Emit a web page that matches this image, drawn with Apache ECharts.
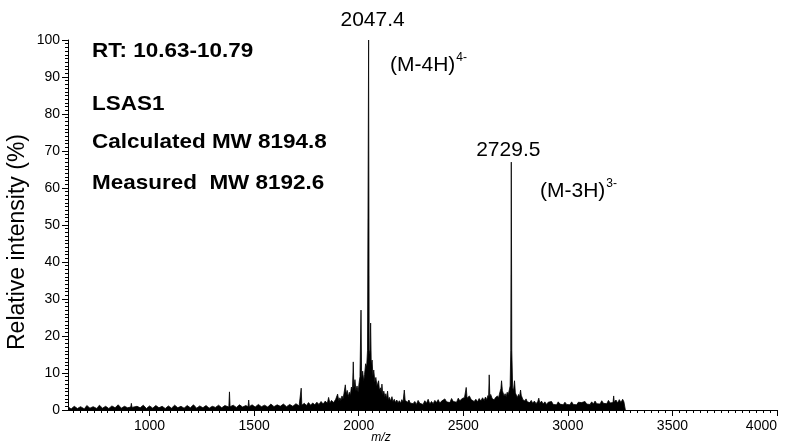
<!DOCTYPE html>
<html>
<head>
<meta charset="utf-8">
<script src="https://cdn.jsdelivr.net/npm/echarts@6/dist/echarts.min.js"></script>
<style>html,body{margin:0;padding:0;background:#fff}#c{width:788px;height:445px}</style>
</head>
<body>
<div id="c"></div>
<script>
// ---- data (m/z, relative intensity %) ----
const lowMassRegion = [[612,0.8],[625,0.3],[640,1.0],[655,0.4],[670,0.9],[688,0.3],[700,1.2],[715,0.5],[730,0.9],[748,0.4],[760,1.3],[775,0.5],[790,1.0],[805,0.4],[820,1.1],[835,0.6],[850,1.4],[865,0.5],[880,1.0],[895,0.6],[910,0.8],[913,1.8],[916,0.7],[925,0.5],[940,1.0],[955,0.6],[970,1.3],[985,0.4],[1000,1.1],[1015,0.5],[1030,1.2],[1045,0.6],[1060,1.0],[1075,0.4],[1090,1.1],[1105,0.5],[1120,1.3],[1135,0.6],[1150,1.0],[1165,0.5],[1180,1.2],[1195,0.6],[1210,1.4],[1225,0.5],[1240,1.1],[1255,0.6],[1270,1.2],[1285,0.5],[1300,1.0],[1315,0.7],[1330,1.3],[1345,0.6],[1360,1.2],[1379,0.8],[1382,4.9],[1385,0.9],[1400,1.3],[1415,0.7],[1430,1.4],[1445,0.8],[1460,1.2],[1471,0.9],[1474,2.7],[1477,0.9],[1490,1.4],[1505,0.8],[1520,1.5],[1535,0.9],[1550,1.3],[1565,0.8],[1580,1.6],[1595,0.9],[1610,1.4],[1625,1.0],[1640,1.6],[1655,0.9],[1670,1.5],[1685,1.0],[1700,1.7],[1715,1.1],[1722,1.2],[1725,5.9],[1728,1.3],[1740,1.8]];
const preClusterRegion = [[1750,1.2],[1760,2.0],[1770,1.3],[1780,1.9],[1785,2.2],[1790,1.4],[1800,2.1],[1810,1.5],[1820,2.3],[1830,1.6],[1840,2.4],[1850,1.8],[1856,3.4],[1862,1.9],[1870,2.6],[1880,2.0],[1890,2.9],[1899,4.3],[1905,2.4]];
const cluster4minus = [[1910,3.3],[1915,2.6],[1920,3.8],[1925,3.0],[1930,4.6],[1936,6.8],[1940,4.2],[1945,5.3],[1950,3.6],[1955,4.8],[1960,3.9],[1965,6.2],[1970,5.0],[1974,13.0],[1977,5.8],[1982,8.2],[1987,5.2],[1992,6.5],[1997,4.8],[2002,7.4],[2006,9.0],[2011,27.0],[2014,8.5],[2019,10.5],[2024,7.8],[2028,9.6],[2033,12.5],[2038,11.6],[2042,16.0],[2045,16.5],[2047.4,100],[2050,16.2],[2054,15.0],[2057,23.5],[2060,12.0],[2064,13.5],[2068,9.2],[2072,10.8],[2077,7.6],[2082,8.8],[2087,6.5],[2091,7.2],[2095,7.9],[2099,5.4],[2104,6.0],[2108,4.6],[2111,7.0],[2115,4.2],[2120,5.1],[2125,3.6],[2130,4.4],[2134,3.0],[2138,5.1],[2142,2.8],[2147,3.4],[2152,2.4],[2159,3.6],[2164,2.2],[2170,2.9],[2176,2.0],[2182,2.7],[2188,1.9],[2194,2.5],[2200,1.8],[2206,2.8],[2212,2.2],[2218,5.4],[2222,2.6],[2228,3.0],[2234,2.1],[2240,2.7],[2246,1.9]];
const midRegion = [[2252,2.4],[2260,1.7],[2268,2.3],[2276,1.5],[2284,2.6],[2292,1.8],[2300,2.2],[2308,1.5],[2316,2.5],[2324,1.8],[2332,2.9],[2340,1.6],[2348,2.3],[2356,1.7],[2364,2.6],[2372,2.0],[2380,2.8],[2388,1.8],[2396,2.4],[2404,1.9],[2412,3.0],[2420,2.2],[2428,2.7],[2436,2.0],[2444,3.1],[2452,2.3],[2460,2.8],[2468,2.1],[2476,3.2],[2484,2.4],[2492,3.0],[2500,2.6],[2506,3.4],[2511,3.0],[2514,6.1],[2518,3.2],[2524,3.6],[2529,3.8],[2533,4.1],[2538,2.8],[2545,3.0],[2552,2.3],[2560,2.9],[2568,2.2],[2576,3.1],[2584,2.4],[2592,3.3],[2600,2.6]];
const cluster3minus = [[2606,3.5],[2612,2.8],[2618,3.9],[2621,3.2],[2624,9.5],[2627,3.6],[2631,4.2],[2634,4.5],[2638,3.1],[2643,3.6],[2648,2.7],[2653,3.3],[2658,2.9],[2663,3.8],[2668,3.2],[2672,4.1],[2676,5.0],[2680,5.8],[2683,7.9],[2687,5.2],[2691,4.9],[2695,3.8],[2700,4.4],[2705,3.6],[2710,4.8],[2715,4.2],[2720,5.4],[2724,6.5],[2727,16.0],[2729.5,67],[2732,16.0],[2736,6.0],[2740,5.2],[2745,7.9],[2749,4.6],[2754,4.0],[2759,3.4],[2764,4.2],[2769,3.6],[2774,5.4],[2777,4.0],[2780,3.6],[2785,2.8],[2790,3.3],[2795,2.4],[2800,3.0],[2806,2.2],[2812,2.7],[2818,2.0]];
const highMassRegion = [[2825,2.6],[2832,1.8],[2840,2.4],[2848,1.7],[2856,2.3],[2861,3.2],[2866,1.8],[2874,2.4],[2882,1.6],[2890,2.2],[2898,1.5],[2906,2.1],[2914,1.6],[2922,2.3],[2930,1.5],[2938,2.0],[2946,1.4],[2954,2.2],[2962,1.6],[2970,2.0],[2978,1.4],[2986,2.1],[2994,1.5],[3002,1.9],[3010,1.4],[3018,2.2],[3026,1.5],[3034,2.0],[3042,1.4],[3050,2.1],[3058,1.6],[3066,2.0],[3074,1.5],[3082,2.3],[3090,1.6],[3098,2.1],[3106,1.5],[3114,2.2],[3122,1.6],[3130,2.4],[3138,1.7],[3146,2.2],[3154,1.6],[3162,2.5],[3170,1.8],[3178,2.3],[3186,1.7],[3194,2.6],[3202,1.9],[3210,2.4],[3216,2.0],[3219,3.8],[3222,2.1],[3230,2.7],[3238,1.9],[3246,2.8],[3254,2.0],[3262,2.9],[3268,2.2],[3274,2.6],[3275,0]];

const labelledPeaks = [[2047.4, 100], [2729.5, 67]];
const xTickValues = [1000, 1500, 2000, 2500, 3000, 3500, 4000];
const yTickLabels = ['0','10','20','30','40','50','60','70','80','90','100'];
const infoLines = ['RT: 10.63-10.79', 'LSAS1', 'Calculated MW 8194.8', 'Measured  MW 8192.6'];

const spectrum = [].concat(lowMassRegion, preClusterRegion, cluster4minus, midRegion, cluster3minus, highMassRegion);

const xMin = 610, xMax = 4000;
const minorTicks = [];
for (let v = 1000 - 100/3*11; v <= xMax + 0.01; v += 100/3) { if (v >= xMin) minorTicks.push(v); }

const FONT = '"Liberation Sans", Arial, sans-serif';
const chart = echarts.init(document.getElementById('c'), null, {renderer: 'canvas'});
const infoText = (i, y) => ({type: 'text', x: 92, y: y, scaleX: 1.07,
  style: {text: infoLines[i], font: 'bold 21px ' + FONT, fill: '#000', verticalAlign: 'middle'}});
chart.setOption({
  backgroundColor: '#fff',
  animation: false,
  grid: {left: 68, right: 11, top: 40, bottom: 35},
  xAxis: [{
    type: 'value', min: xMin, max: xMax,
    axisLine: {lineStyle: {color: '#000', width: 1}},
    axisTick: {customValues: minorTicks, length: 3, lineStyle: {color: '#000'}},
    axisLabel: {show: false},
    splitLine: {show: false}
  }, {
    type: 'value', min: xMin, max: xMax, position: 'bottom',
    axisLine: {show: false},
    axisTick: {customValues: xTickValues, length: 6, lineStyle: {color: '#000'}},
    axisLabel: {customValues: xTickValues, fontSize: 14, color: '#000', fontFamily: FONT, margin: 9,
      alignMaxLabel: 'right', formatter: (v) => String(v)},
    splitLine: {show: false}
  }],
  yAxis: {
    type: 'value', min: 0, max: 100, interval: 10,
    axisLine: {show: true, lineStyle: {color: '#000', width: 1}},
    axisTick: {show: true, length: 6, lineStyle: {color: '#000'}},
    minorTick: {show: true, splitNumber: 10, length: 3, lineStyle: {color: '#000'}},
    axisLabel: {fontSize: 14, color: '#000', fontFamily: FONT, margin: 8,
      formatter: (v) => yTickLabels[Math.round(v / 10)]},
    splitLine: {show: false}
  },
  series: [{
    type: 'line', xAxisIndex: 0, data: spectrum,
    symbol: 'none', showSymbol: false, sampling: null,
    lineStyle: {color: '#000', width: 0.8},
    areaStyle: {color: '#000', opacity: 1, origin: 'start'},
    markPoint: {
      symbol: 'circle', symbolSize: 0,
      data: [
        {coord: labelledPeaks[0], value: String(labelledPeaks[0][0]),
         label: {position: 'top', distance: 9, offset: [4, 0]}},
        {coord: labelledPeaks[1], value: String(labelledPeaks[1][0]),
         label: {position: 'top', distance: 1, offset: [-3, 0]}}
      ],
      label: {show: true, formatter: (p) => p.value, fontSize: 21, color: '#000', fontFamily: FONT}
    }
  }],
  graphic: [
    infoText(0, 51), infoText(1, 104), infoText(2, 142), infoText(3, 183),
    {type: 'text', x: 390, y: 65, style: {text: '{a|(M-4H)}{b|4-}', fill: '#000', verticalAlign: 'middle',
      rich: {a: {fontSize: 21, fontFamily: FONT, color: '#000'}, b: {fontSize: 12, fontFamily: FONT, color: '#000', padding: [0, 0, 14, 1]}}}},
    {type: 'text', x: 540, y: 191, style: {text: '{a|(M-3H)}{b|3-}', fill: '#000', verticalAlign: 'middle',
      rich: {a: {fontSize: 21, fontFamily: FONT, color: '#000'}, b: {fontSize: 12, fontFamily: FONT, color: '#000', padding: [0, 0, 14, 1]}}}},
    {type: 'text', x: 18, y: 242, rotation: Math.PI / 2, style: {text: 'Relative intensity (%)', font: '23px ' + FONT, fill: '#000', align: 'center', verticalAlign: 'middle'}},
    {type: 'text', x: 381, y: 438, style: {text: 'm/z', font: 'italic 12px ' + FONT, fill: '#000', align: 'center', verticalAlign: 'middle'}}
  ]
});
</script>
</body>
</html>
